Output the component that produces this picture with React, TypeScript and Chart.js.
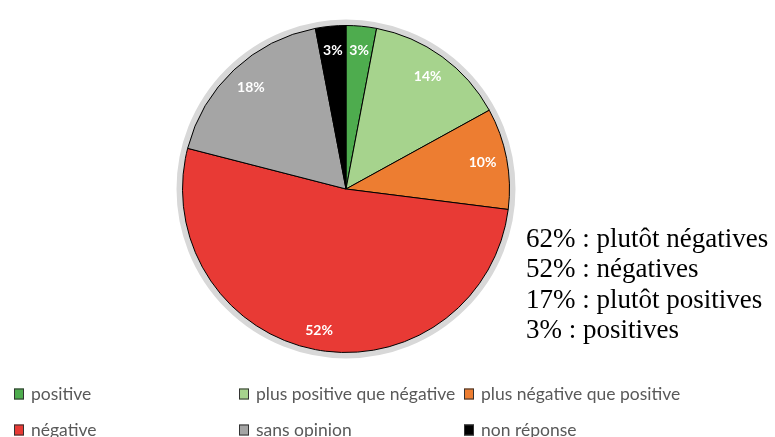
import React, { useEffect, useRef } from "react";
import { Chart, registerables } from "chart.js";

Chart.register(...registerables);

const categories = [
  "positive",
  "plus positive que négative",
  "plus négative que positive",
  "négative",
  "sans opinion",
  "non réponse",
];
const values = [3, 14, 10, 52, 18, 3];
const colors = ["#4EAC4E", "#A6D38D", "#ED7D31", "#E83A35", "#A5A5A5", "#000000"];
const summaryLines = [
  "62% : plutôt négatives",
  "52% : négatives",
  "17% : plutôt positives",
  "3% : positives",
];

const haloPlugin = {
  id: "halo",
  beforeDatasetsDraw(chart: any) {
    const arc = chart.getDatasetMeta(0).data[0];
    if (!arc) return;
    const { x, y, outerRadius } = arc.getProps(["x", "y", "outerRadius"], true);
    const ctx = chart.ctx;
    ctx.save();
    ctx.beginPath();
    ctx.arc(x, y, outerRadius + 3, 0, Math.PI * 2);
    ctx.strokeStyle = "#d8d8d8";
    ctx.lineWidth = 6;
    ctx.stroke();
    ctx.restore();
  },
};

const labelPlugin = {
  id: "sliceLabels",
  afterDatasetsDraw(chart: any) {
    const ctx = chart.ctx;
    const meta = chart.getDatasetMeta(0);
    ctx.save();
    ctx.font = "bold 14px Lato, 'Open Sans', sans-serif";
    ctx.fillStyle = "#ffffff";
    ctx.textAlign = "center";
    ctx.textBaseline = "middle";
    meta.data.forEach((arc: any, i: number) => {
      const { x, y, startAngle, endAngle, outerRadius } = arc.getProps(
        ["x", "y", "startAngle", "endAngle", "outerRadius"],
        true
      );
      const mid = (startAngle + endAngle) / 2;
      const r = outerRadius * (values[i] > 40 ? 0.88 : 0.85);
      ctx.fillText(values[i] + "%", x + Math.cos(mid) * r, y + Math.sin(mid) * r);
    });
    ctx.restore();
  },
};

const legendPlugin = {
  id: "customLegend",
  afterDraw(chart: any) {
    const ctx = chart.ctx;
    const colX = [14, 239, 464];
    const rowY = [394, 430];
    ctx.save();
    ctx.font = "17.5px Lato, 'Open Sans', sans-serif";
    ctx.textBaseline = "middle";
    ctx.textAlign = "left";
    categories.forEach((c, i) => {
      const x = colX[i % 3];
      const y = rowY[Math.floor(i / 3)];
      ctx.fillStyle = colors[i];
      ctx.fillRect(x, y - 5.5, 10, 11);
      ctx.strokeStyle = "#333333";
      ctx.lineWidth = 1;
      ctx.strokeRect(x + 0.5, y - 5, 9, 10);
      ctx.fillStyle = "#595959";
      ctx.fillText(c, x + 17, y);
    });
    // summary text
    ctx.font = "27px 'Liberation Serif', 'DejaVu Serif', serif";
    ctx.fillStyle = "#000000";
    ctx.textBaseline = "alphabetic";
    summaryLines.forEach((s, i) => {
      ctx.fillText(s, 526, 247 + i * 30.3);
    });
    ctx.restore();
  },
};

export default function App() {
  const ref = useRef<HTMLCanvasElement>(null);
  useEffect(() => {
    if (!ref.current) return;
    const chart = new Chart(ref.current, {
      type: "pie",
      data: {
        labels: categories,
        datasets: [
          {
            data: values,
            backgroundColor: colors,
            borderColor: "#000000",
            borderWidth: 1,
          },
        ],
      },
      options: {
        responsive: false,
        animation: false,
        layout: { padding: { top: 25, bottom: 84, left: 182, right: 265 } },
        plugins: {
          legend: { display: false },
          tooltip: { enabled: false },
        },
      },
      plugins: [haloPlugin, labelPlugin, legendPlugin],
    });
    return () => chart.destroy();
  }, []);
  return (
    <div style={{ position: "absolute", left: 0, top: 0, width: 775, height: 437, background: "#fff" }}>
      <canvas ref={ref} width={775} height={437} style={{ display: "block" }} />
    </div>
  );
}
